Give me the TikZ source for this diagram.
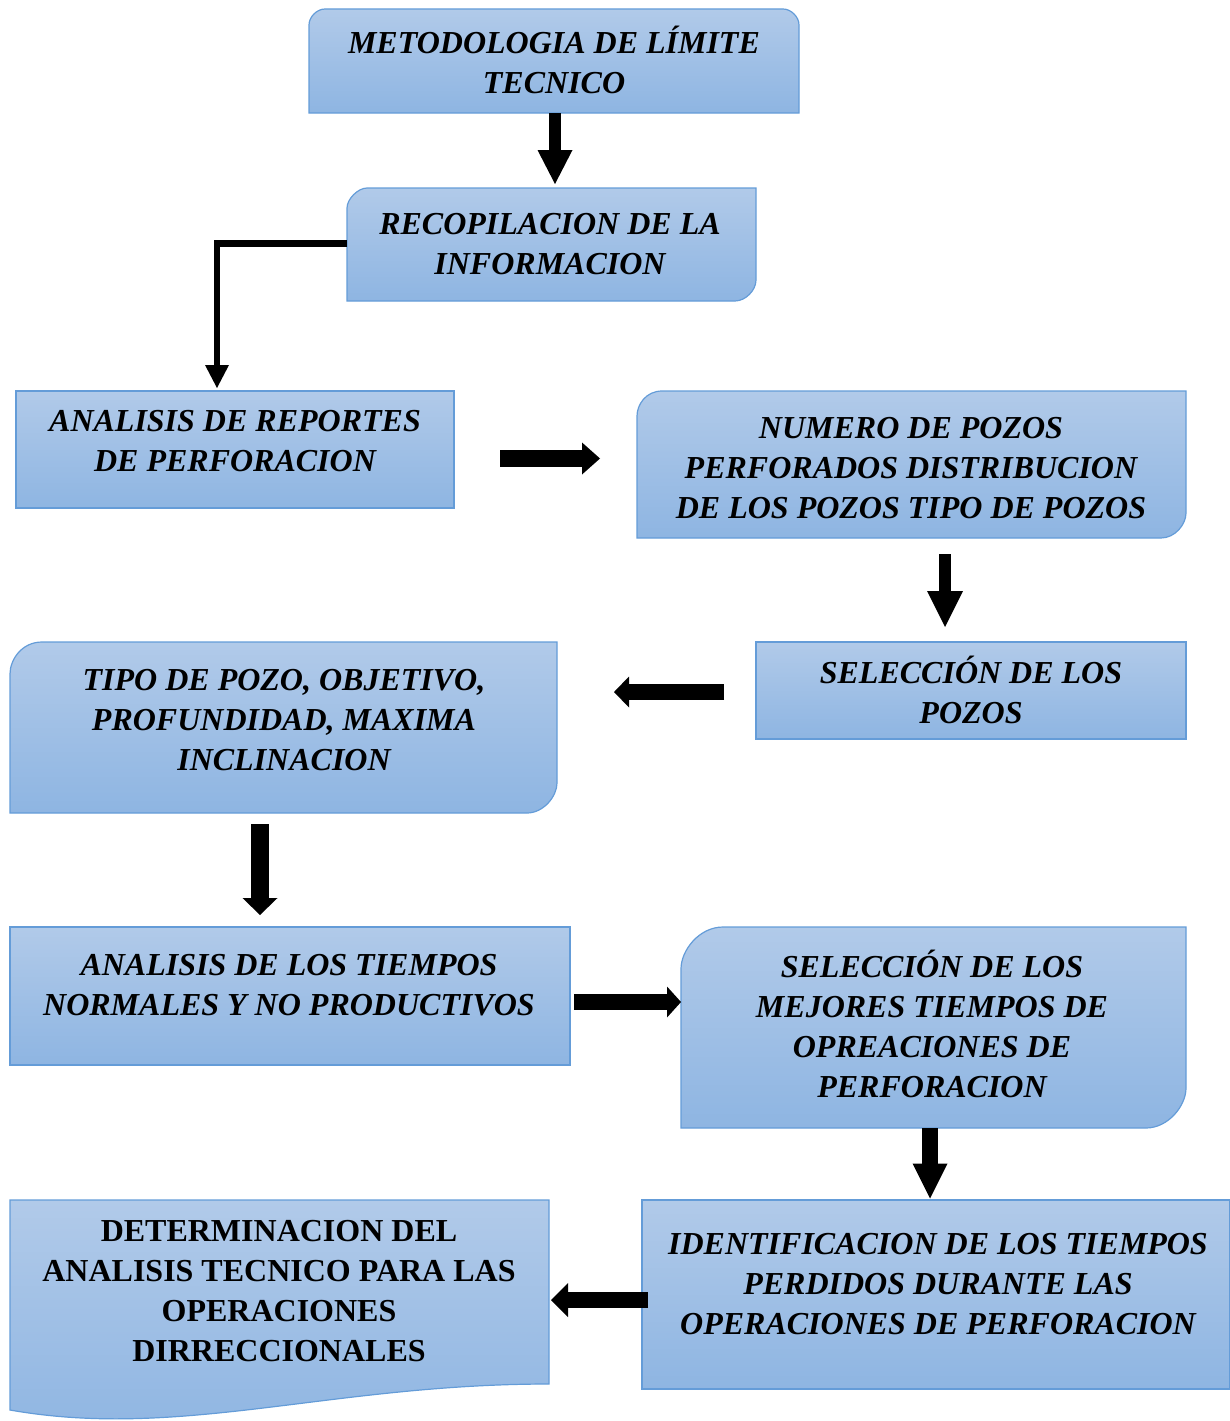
\documentclass[tikz,border=0pt]{standalone}
\usepackage{fontspec}
\setmainfont{Liberation Serif}
\usetikzlibrary{arrows.meta,calc}
\definecolor{boxtop}{RGB}{177,202,233}
\definecolor{boxbot}{RGB}{142,181,226}
\definecolor{boxline}{RGB}{100,156,216}
\begin{document}
\begin{tikzpicture}[x=1pt,y=-1pt,
  shapefill/.style={top color=boxtop,bottom color=boxbot,draw=boxline,line width=1.2pt},
  anchorbox/.style={draw=none,fill=none,inner sep=0pt,outer sep=0pt,rectangle},
  label/.style={align=center,inner sep=0pt,anchor=base,font=\fontsize{32}{40}\selectfont\bfseries\itshape},
  labelup/.style={align=center,inner sep=0pt,anchor=base,font=\fontsize{32}{40}\selectfont\bfseries},
  arr/.style={line width=#1,line cap=butt,draw=black},
]
\useasboundingbox (0,0) rectangle (1229,1421);

% ---------- box outlines ----------
% b1: top corners rounded
\path[shapefill] (309,113) -- (309,25) .. controls (309,16.9) and (316.9,9) .. (325,9)
  -- (783,9) .. controls (791.1,9) and (799,16.9) .. (799,25) -- (799,113) -- cycle;
% b2: TL and BR rounded
\path[shapefill] (347,301) -- (347,208) .. controls (347,199) and (358,188) .. (367,188)
  -- (756,188) -- (756,280) .. controls (756,290.4) and (745.4,301) .. (735,301) -- cycle;
% b3 rectangle
\path[shapefill] (16,391) rectangle (454,508);
% b4: TL and BR rounded
\path[shapefill] (637,538) -- (637,416) .. controls (637,404.8) and (645.8,391) .. (662,391)
  -- (1186,391) -- (1186,513) .. controls (1186,524.2) and (1175.2,538) .. (1161,538) -- cycle;
% b5 rectangle
\path[shapefill] (756,642) rectangle (1186,739);
% b6: TL and BR rounded
\path[shapefill] (10,813) -- (10,674) .. controls (10,659.7) and (21.7,642) .. (42,642)
  -- (557,642) -- (557,783) .. controls (557,796.4) and (543.4,813) .. (527,813) -- cycle;
% b7 rectangle
\path[shapefill] (10,927) rectangle (570,1065);
% b8: TL and BR rounded
\path[shapefill] (681,1128) -- (681,969) .. controls (681,950.2) and (699.2,927) .. (723,927)
  -- (1186,927) -- (1186,1088) .. controls (1186,1105.9) and (1168.1,1128) .. (1146,1128) -- cycle;
% b9 rectangle
\path[shapefill] (642,1200) rectangle (1230,1389);
% b10 document shape
\path[shapefill] (10,1410) -- (10,1200) -- (549,1200) -- (549,1384)
  .. controls (330,1384) and (180,1440) .. (10,1410) -- cycle;

% ---------- named box nodes ----------
\node[anchorbox,minimum width=490pt,minimum height=104pt] (b1) at (554,61) {};
\node[anchorbox,minimum width=409pt,minimum height=113pt] (b2) at (551.5,244.5) {};
\node[anchorbox,minimum width=438pt,minimum height=117pt] (b3) at (235,449.5) {};
\node[anchorbox,minimum width=549pt,minimum height=147pt] (b4) at (911.5,464.5) {};
\node[anchorbox,minimum width=430pt,minimum height=97pt] (b5) at (971,690.5) {};
\node[anchorbox,minimum width=547pt,minimum height=171pt] (b6) at (283.5,727.5) {};
\node[anchorbox,minimum width=560pt,minimum height=138pt] (b7) at (290,996) {};
\node[anchorbox,minimum width=505pt,minimum height=201pt] (b8) at (933.5,1027.5) {};
\node[anchorbox,minimum width=588pt,minimum height=189pt] (b9) at (936,1294.5) {};
\node[anchorbox,minimum width=539pt,minimum height=184pt] (b10) at (279.5,1292) {};

% ---------- texts ----------
\node[label] (t1) at (554,93.5) {METODOLOGIA DE LÍMITE\\TECNICO};
\node[label] (t2) at (550,274.5) {RECOPILACION DE LA\\INFORMACION};
\node[label] (t3) at (235,471) {ANALISIS DE REPORTES\\DE PERFORACION};
\node[label] (t4) at (911,518) {NUMERO DE POZOS\\PERFORADOS DISTRIBUCION\\DE LOS POZOS TIPO DE POZOS};
\node[label] (t5) at (971,723) {SELECCIÓN DE LOS\\POZOS};
\node[label] (t6) at (284,770) {TIPO DE POZO, OBJETIVO,\\PROFUNDIDAD, MAXIMA\\INCLINACION};
\node[label] (t7) at (289,1015) {ANALISIS DE LOS TIEMPOS\\NORMALES Y NO PRODUCTIVOS};
\node[label] (t8) at (932,1097) {SELECCIÓN DE LOS\\MEJORES TIEMPOS DE\\OPREACIONES DE\\PERFORACION};
\node[label] (t9) at (938,1334) {IDENTIFICACION DE LOS TIEMPOS\\PERDIDOS DURANTE LAS\\OPERACIONES DE PERFORACION};
\node[labelup] (t10) at (279,1361) {DETERMINACION DEL\\ANALISIS TECNICO PARA LAS\\OPERACIONES\\DIRRECCIONALES};

% ---------- connectors ----------
\draw[arr=12pt,-{Triangle[width=35pt,length=34pt,line width=0pt]},shorten >=4pt]
  ([xshift=1pt]b1.south) -- ([xshift=1pt]b1.south |- b2.north);
\draw[arr=6.5pt,line join=miter,-{Triangle[width=24pt,length=23pt,line width=0pt]},shorten >=3pt]
  ([yshift=1pt]b2.west) -| ([xshift=-18pt]b3.north);
\draw[arr=17pt,-{Triangle[width=32pt,length=18pt,line width=0pt]}]
  ([shift={(46,9)}]b3.east) -- ([shift={(-37,-6)}]b4.west);
\draw[arr=12pt,-{Triangle[width=36pt,length=36pt,line width=0pt]}]
  ([shift={(33.5,16)}]b4.south) -- ([shift={(-26,-15)}]b5.north);
\draw[arr=16pt,-{Triangle[width=31pt,length=15pt,line width=0pt]}]
  ([shift={(-32,1.5)}]b5.west) -- ([shift={(57,-35.5)}]b6.east);
\draw[arr=18pt,-{Triangle[width=35pt,length=17pt,line width=0pt]}]
  ([shift={(-23.5,11)}]b6.south) -- ([shift={(-30,-12)}]b7.north);
\draw[arr=16pt,-{Triangle[width=31pt,length=14pt,line width=0pt]}]
  ([shift={(4,6)}]b7.east) -- ([shift={(0,-25.5)}]b8.west);
\draw[arr=16pt,-{Triangle[width=35pt,length=35pt,line width=0pt]}]
  ([shift={(-3.5,0)}]b8.south) -- ([shift={(-3.5,-1.5)}]b8.south |- b9.north);
\draw[arr=16pt,-{Triangle[width=34pt,length=17pt,line width=0pt]}]
  ([shift={(6,5.5)}]b9.west) -- ([shift={(2,8)}]b10.east);
\end{tikzpicture}
\end{document}
